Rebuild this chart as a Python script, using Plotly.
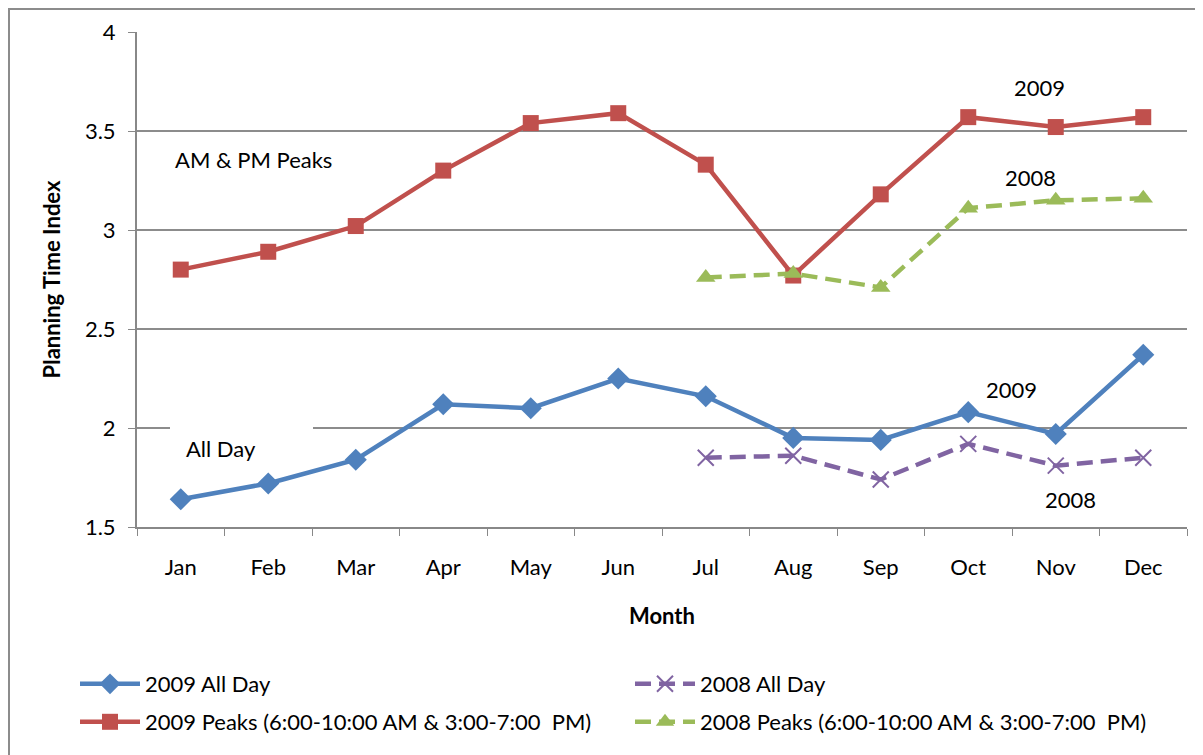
import plotly.graph_objects as go

months = ["Jan", "Feb", "Mar", "Apr", "May", "Jun", "Jul", "Aug", "Sep", "Oct", "Nov", "Dec"]
months_2008 = ["Jul", "Aug", "Sep", "Oct", "Nov", "Dec"]

all_day_2009 = [1.64, 1.72, 1.84, 2.12, 2.10, 2.25, 2.16, 1.95, 1.94, 2.08, 1.97, 2.37]
all_day_2008 = [1.85, 1.86, 1.74, 1.92, 1.81, 1.85]
peaks_2009 = [2.80, 2.89, 3.02, 3.30, 3.54, 3.59, 3.33, 2.77, 3.18, 3.57, 3.52, 3.57]
peaks_2008 = [2.76, 2.78, 2.71, 3.11, 3.15, 3.16]

FONT = "Lato"
FS = 22
W, H = 1195, 747  # page body has an 8px margin
L, R, T, B = 129, 16, 24, 228
PW, PH = W - L - R, H - T - B

fig = go.Figure()
fig.add_trace(go.Scatter(x=months, y=all_day_2009, name="2009 All Day", mode="lines+markers",
                         line=dict(color="#4F81BD", width=4.5),
                         marker=dict(symbol="diamond", size=17, color="#4F81BD"),
                         legend="legend"))
fig.add_trace(go.Scatter(x=months_2008, y=all_day_2008, name="2008 All Day", mode="lines+markers",
                         line=dict(color="#8064A2", width=4.5, dash="16px,8px"),
                         marker=dict(symbol="x-thin", size=16, color="#8064A2",
                                     line=dict(color="#8064A2", width=2)),
                         legend="legend"))
fig.add_trace(go.Scatter(x=months, y=peaks_2009, name="2009 Peaks (6:00-10:00 AM & 3:00-7:00  PM)",
                         mode="lines+markers",
                         line=dict(color="#C0504D", width=4.5),
                         marker=dict(symbol="square", size=16, color="#C0504D"),
                         legend="legend2"))
fig.add_trace(go.Scatter(x=months_2008, y=peaks_2008, name="2008 Peaks (6:00-10:00 AM & 3:00-7:00  PM)",
                         mode="lines+markers",
                         line=dict(color="#9BBB59", width=4.5, dash="16px,8px"),
                         marker=dict(symbol="triangle-up", size=17, color="#9BBB59"),
                         legend="legend2"))

# white background box of the "All Day" text box (hides part of the gridline)
fig.add_annotation(x="Feb", y=1.934, text="&nbsp;", xshift=-27, showarrow=False,
                   bgcolor="white", width=143, height=42, borderpad=0, borderwidth=0)

annots = [
    dict(x="Feb", y=3.354, text="AM & PM Peaks", xshift=-15),
    dict(x="Feb", y=1.894, text="All Day", xshift=-47),
    dict(x="Nov", y=3.722, text="2009", xshift=-16),
    dict(x="Nov", y=3.263, text="2008", xshift=-25),
    dict(x="Nov", y=2.192, text="2009", xshift=-44),
    dict(x="Nov", y=1.641, text="2008", xshift=15),
]
for a in annots:
    fig.add_annotation(showarrow=False, font=dict(family=FONT, size=FS, color="black"), **a)

# outer chart frame
fig.add_shape(type="rect", xref="paper", yref="paper",
              x0=(1 - L) / PW, x1=(1215 - L) / PW,
              y0=(T + PH - 765) / PH, y1=(T + PH - 1) / PH,
              line=dict(color="#8c8c8c", width=2), fillcolor="rgba(0,0,0,0)", layer="below")

leg_common = dict(orientation="h", xref="paper", yref="paper", x=(67 - L) / PW,
                  xanchor="left", yanchor="middle", entrywidth=480, entrywidthmode="pixels",
                  itemwidth=60, font=dict(family=FONT, size=FS), bgcolor="rgba(0,0,0,0)")

fig.update_layout(
    width=W, height=H,
    margin=dict(l=L, r=R, t=T, b=B, autoexpand=False),
    paper_bgcolor="white", plot_bgcolor="white",
    font=dict(family=FONT, size=FS, color="black"),
    showlegend=True,
    legend=dict(y=(T + PH - 676) / PH, **leg_common),
    legend2=dict(y=(T + PH - 714) / PH, **leg_common),
    xaxis=dict(showline=True, linecolor="#888888", linewidth=2, ticks="outside", ticklen=7,
               tickcolor="#888888", tickson="boundaries", showgrid=False,
               ticklabelstandoff=20,
               title=dict(text="<b>Month</b>", standoff=29, font=dict(size=FS)),
               tickfont=dict(size=FS), range=[-0.5, 11.5]),
    yaxis=dict(range=[1.5, 4], dtick=0.5, showline=True, linecolor="#888888", linewidth=2,
               ticks="outside", ticklen=7, tickcolor="#888888", showgrid=True,
               gridcolor="#8c8c8c", gridwidth=2, zeroline=False,
               ticklabelstandoff=8, tickfont=dict(size=FS),
               title=dict(text="<b>Planning Time Index</b>", standoff=18, font=dict(size=FS))),
)

fig.write_html("out.html")
